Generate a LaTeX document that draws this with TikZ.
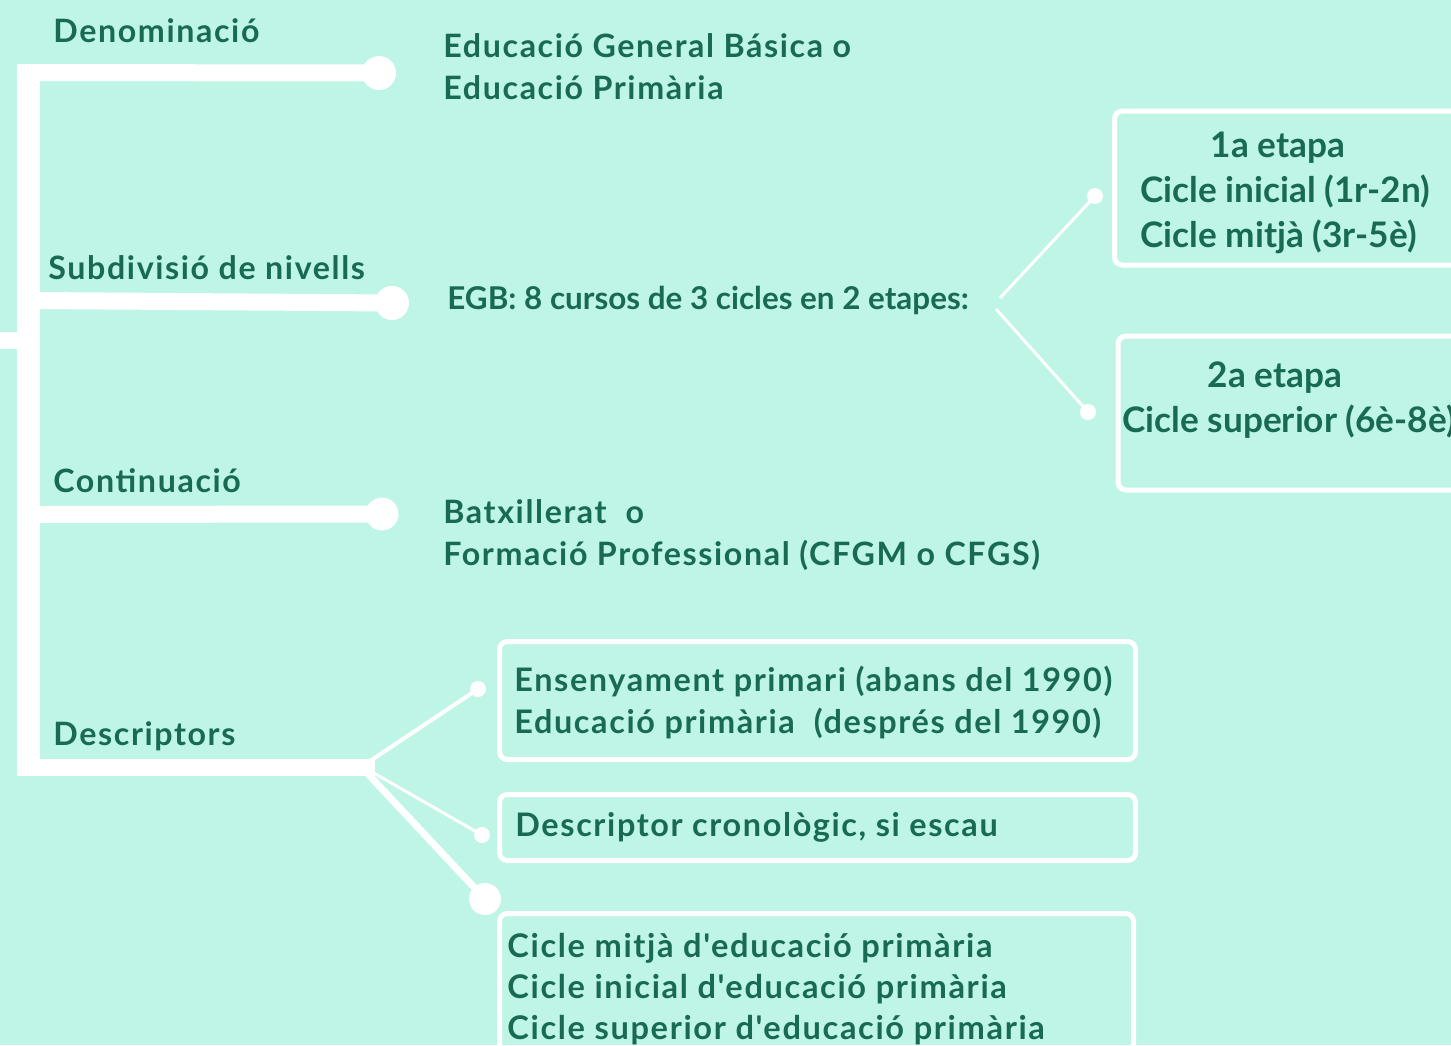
\documentclass[tikz,border=0pt]{standalone}
\usepackage{fontspec}
\setmainfont{Lato}
\newfontfamily\labfont{Lato}[LetterSpace=5]
\definecolor{bg}{RGB}{190,245,230}
\definecolor{tx}{RGB}{24,107,82}
\begin{document}
\begin{tikzpicture}[x=0.5pt,y=-0.5pt,
  lab/.style={anchor=base west, inner sep=0pt, text=tx, font=\labfont\bfseries\fontsize{16.1}{21}\selectfont},
  plain/.style={anchor=base west, inner sep=0pt, text=tx, font=\bfseries\fontsize{15.7}{21}\selectfont},
  big/.style={anchor=base west, inner sep=0pt, text=tx, font=\bfseries\fontsize{17.6}{23}\selectfont},
  boxtxt/.style={anchor=base west, inner sep=0pt, text=tx, font=\labfont\bfseries\fontsize{16.2}{21}\selectfont},
  boxc/.style={anchor=base west, inner sep=0pt, text=tx, font=\labfont\bfseries\fontsize{16.3}{20.7}\selectfont},
  dot/.style={circle, fill=white, inner sep=0pt, minimum size=#1},
  bar/.style={white, line width=8.5pt},
  thin/.style={white, line width=#1},
  frame/.style={draw=white, line width=2.5pt, rounded corners=4pt}]
\fill[bg] (0,0) rectangle (1451,1045);
\useasboundingbox (0,0) rectangle (1451,1045);

% trunk
\coordinate (vtop) at (28.5,64);
\coordinate (vbot) at (28.5,776);
\draw[white, line width=11.5pt] (vtop) -- (vbot);
\coordinate (stub) at (0,340);
\coordinate (stubend) at (20,340);
\draw[bar] (stub) -- (stubend);

% branch dots
\node[dot=17pt] (d1) at (379,73) {};
\node[dot=17pt] (d2) at (392,303) {};
\node[dot=16.5pt] (d3) at (382,514) {};
\coordinate (b1) at (17,72.5);
\coordinate (b2) at (35,300.5);
\coordinate (b3) at (35,514.5);
\coordinate (b4) at (17,767.5);
\coordinate (b4e) at (375,767.5);
\draw[bar] (b1) -- (d1.center);
\draw[bar] (b2) -- (d2.center);
\draw[bar] (b3) -- (d3.center);
\draw[bar] (b4) -- (b4e);

% descriptor fan
\coordinate (h1) at (370,761);
\coordinate (h2) at (372,772);
\coordinate (h3) at (368,774);
\node[dot=8pt] (da) at (478,689) {};
\node[dot=8pt] (db) at (482,835) {};
\node[dot=16pt] (dc) at (485,899) {};
\draw[thin=2pt] (h1) -- (da.center);
\draw[thin=1.5pt] (h2) -- (db.center);
\draw[thin=3.5pt] (h3) -- (dc.center);

% EGB fan
\coordinate (e1) at (1000,298);
\coordinate (e2) at (996,309);
\node[dot=8pt] (de1) at (1095,196) {};
\node[dot=8pt] (de2) at (1088,412) {};
\draw[thin=1.5pt] (e1) -- (de1.center);
\draw[thin=1.5pt] (e2) -- (de2.center);

% boxes
\draw[frame] (1114.5,111) rectangle (1470,265);
\draw[frame] (1118,336) rectangle (1470,490);
\draw[frame] (499.5,641.5) rectangle (1135.5,759.5);
\draw[frame] (499.5,794.5) rectangle (1135.5,860.5);
\draw[frame] (499.5,913.5) rectangle (1133.5,1070);

% labels
\node[lab] (t1) at (53,42) {Denominació};
\node[lab] (t1v) at (443,57) {\begin{tabular}[t]{@{}l@{}}Educació General Básica o\\Educació Primària\end{tabular}};
\node[lab] (t2) at (48,279) {Subdivisió de nivells};
\node[plain] (t2v) at (447,309) {EGB: 8 cursos de 3 cicles en 2 etapes:};
\node[lab] (t3) at (53,492) {Continuació};
\node[lab] (t3v) at (443,523) {\begin{tabular}[t]{@{}l@{}}Batxillerat\ \ o\\Formació Professional (CFGM o CFGS)\end{tabular}};
\node[lab] (t4) at (53,745) {Descriptors};

\node[big, anchor=base] (p1) at (1278,157) {1a etapa};
\node[big] (p1a) at (1140,202) {Cicle inicial (1r-2n)};
\node[big] (p1b) at (1140,247) {Cicle mitjà (3r-5è)};
\node[big, anchor=base] (p2) at (1275,387) {2a etapa};
\node[big] (p2a) at (1122,432) {Cicle superior (6è-8è)};

\node[boxtxt] (qa) at (514,691) {\begin{tabular}[t]{@{}l@{}}Ensenyament primari (abans del 1990)\\Educació primària\ \ (després del 1990)\end{tabular}};
\node[boxtxt] (qb) at (515,836) {Descriptor cronològic, si escau};
\node[boxc] (qc) at (507,957) {\begin{tabular}[t]{@{}l@{}}Cicle mitjà d'educació primària\\Cicle inicial d'educació primària\\Cicle superior d'educació primària\end{tabular}};
\end{tikzpicture}
\end{document}
